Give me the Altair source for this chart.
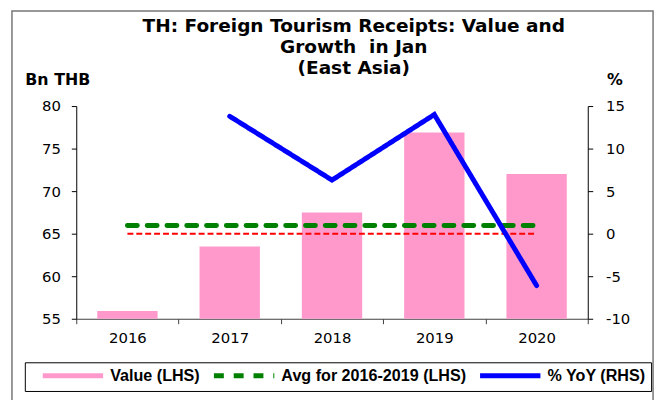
import altair as alt
import pandas as pd

# ---- data ----
years = ["2016", "2017", "2018", "2019", "2020"]
value_lhs = [55.9, 63.5, 67.5, 76.9, 72.0]          # Bn THB, bars
yoy_rhs = [None, 13.8, 6.3, 14.0, -6.1]              # % YoY, blue line
avg_years = 4                                        # 2016-2019
avg_value = sum(value_lhs[:avg_years]) / avg_years
avg_lhs = [avg_value] * len(years)                   # green dashed line
zero_rhs = [0.0] * len(years)                        # red zero line on RHS

series_names = ["Value (LHS)", "Avg for 2016-2019 (LHS)", "% YoY (RHS)"]
series_colors = ["#ff99cc", "#008000", "#0000ff"]
series_dashes = [[1, 0], [10, 10], [1, 0]]

title_lines = ["TH: Foreign Tourism Receipts: Value and", "Growth\u00a0 in Jan", "(East Asia)"]
left_title = "Bn THB"
right_title = "%"
left_domain = [55, 80]
right_domain = [-10, 15]
left_ticks = [55, 60, 65, 70, 75, 80]
right_ticks = [-10, -5, 0, 5, 10, 15]

df = pd.DataFrame({
    "year": years,
    "value": value_lhs,
    "avg": avg_lhs,
    "yoy": yoy_rhs,
    "zero": zero_rhs,
    "s_avg": series_names[1],
    "s_yoy": series_names[2],
})

TICK_FONT = "DejaVu Sans"
base = alt.Chart(df)

x_enc = alt.X(
    "year:N", title=None, sort=years,
    scale=alt.Scale(paddingInner=0, paddingOuter=0),
    axis=alt.Axis(orient="bottom", tickBand="extent", labelAngle=0, tickSize=5,
                  domainColor="#404040", tickColor="#404040", domainWidth=1.2,
                  labelFont=TICK_FONT, labelFontSize=15, labelColor="black",
                  labelPadding=7),
)

left_scale = alt.Scale(domain=left_domain, zero=False, nice=False)
right_scale = alt.Scale(domain=right_domain, zero=False, nice=False)

left_axis = alt.Axis(
    orient="left", values=left_ticks, grid=False, tickSize=5, labelPadding=11,
    domainColor="black", tickColor="black", labelFont=TICK_FONT, labelFontSize=15,
    labelColor="black", labelExpr="'' + datum.value",
    title=left_title, titleAngle=0, titleX=-52, titleY=-22, titleAlign="left",
    titleBaseline="alphabetic", titleFont=TICK_FONT, titleFontSize=16,
    titleFontWeight="bold", titleColor="black",
)
right_axis = alt.Axis(
    orient="right", values=right_ticks, grid=False, tickSize=5, labelPadding=13,
    domainColor="black", tickColor="black", labelFont=TICK_FONT, labelFontSize=15,
    labelColor="black", labelExpr="'' + datum.value",
    title=right_title, titleAngle=0, titleX=19, titleY=-22, titleAlign="left",
    titleBaseline="alphabetic", titleFont=TICK_FONT, titleFontSize=16,
    titleFontWeight="bold", titleColor="black",
)

color_scale = alt.Scale(domain=series_names, range=series_colors)
dash_scale = alt.Scale(domain=series_names, range=series_dashes)

legend = alt.Legend(
    title=None, orient="none", legendX=-52, legendY=259, direction="horizontal",
    padding=5, strokeColor="black", fillColor="white", columnPadding=1,
    labelOffset=65, symbolSize=4, symbolType="M5,0H66", symbolStrokeWidth=5,
    labelFont="Liberation Sans", labelFontSize=16.3, labelFontWeight="bold",
    labelColor="black", labelLimit=400,
)

bars = base.mark_bar(width=alt.RelativeBandSize(0.59), color=series_colors[0]).encode(
    x=x_enc,
    y=alt.Y("value:Q", scale=left_scale, axis=left_axis),
    y2=alt.datum(left_domain[0]),
)

avg_line = base.mark_line(strokeWidth=5, strokeCap="round").encode(
    x=x_enc,
    y=alt.Y("avg:Q", scale=left_scale, axis=left_axis),
    color=alt.Color("s_avg:N", scale=color_scale, legend=legend),
    strokeDash=alt.StrokeDash("s_avg:N", scale=dash_scale, legend=legend),
)

zero_line = base.mark_line(color="#ff0000", strokeWidth=2, strokeDash=[6, 3]).encode(
    x=x_enc,
    y=alt.Y("zero:Q", scale=right_scale, axis=right_axis),
)

yoy_line = base.mark_line(strokeWidth=5, strokeCap="round").encode(
    x=x_enc,
    y=alt.Y("yoy:Q", scale=right_scale, axis=right_axis),
    color=alt.Color("s_yoy:N", scale=color_scale, legend=legend),
    strokeDash=alt.StrokeDash("s_yoy:N", scale=dash_scale, legend=legend),
)

frame = alt.Chart(pd.DataFrame({"f": [0]})).mark_rect(
    filled=False, stroke="#777777", strokeWidth=1.5
).encode(x=alt.value(-65), x2=alt.value(583), y=alt.value(-96), y2=alt.value(330))

left = alt.layer(bars, avg_line)
right = alt.layer(zero_line, yoy_line)

chart = alt.layer(left, right, frame).resolve_scale(y="independent").properties(
    width=517, height=215,
    title=alt.TitleParams(text=title_lines, font=TICK_FONT, fontSize=18.7, fontWeight="bold",
                          lineHeight=21, anchor="middle", dx=22, offset=0, dy=68,
                          color="black"),
    padding={"left": 69, "top": 97, "right": 72, "bottom": 80},
    autosize=alt.AutoSizeParams(type="none"),
    background="white",
).configure_view(stroke=None)

chart.save("out.html", embed_options={"renderer": "svg", "actions": False})
